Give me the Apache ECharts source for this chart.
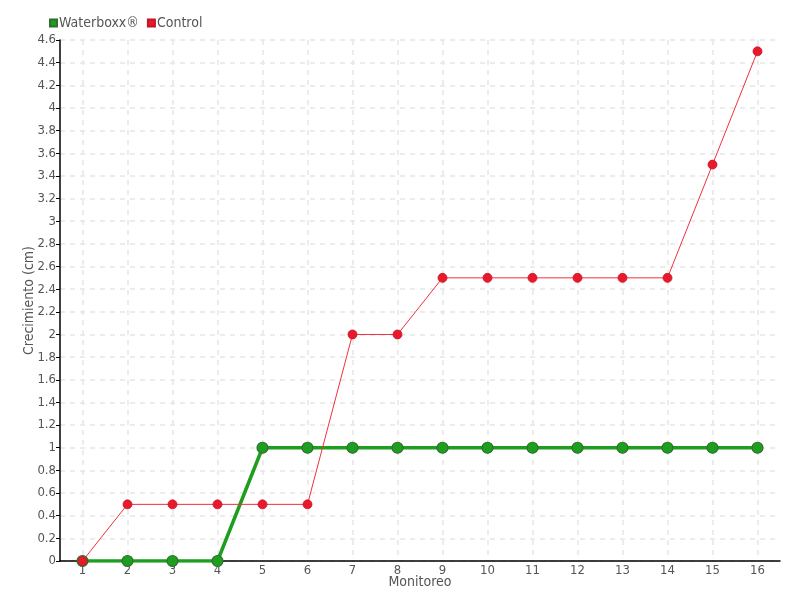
<!DOCTYPE html>
<html><head><meta charset="utf-8">
<script src="https://cdn.jsdelivr.net/npm/echarts@6/dist/echarts.min.js"></script>
<style>html,body{margin:0;padding:0;background:#fff}#c{width:800px;height:600px}</style>
</head><body><div id="c"></div>
<script>
const categories = ['1','2','3','4','5','6','7','8','9','10','11','12','13','14','15','16'];
const waterboxx = [0,0,0,0,1,1,1,1,1,1,1,1,1,1,1,1];
const control = [0,0.5,0.5,0.5,0.5,0.5,2,2,2.5,2.5,2.5,2.5,2.5,2.5,3.5,4.5];
const FONT = '"DejaVu Sans Condensed","Liberation Sans Narrow",sans-serif';
const chart = echarts.init(document.getElementById('c'));
chart.setOption({
  animation: false,
  textStyle: {fontFamily: FONT},
  legend: {
    left: 44, top: 11, itemWidth: 7, itemHeight: 7, itemGap: 8,
    icon: 'rect',
    textStyle: {color: '#555', fontSize: 14, fontFamily: FONT, padding: [0,0,0,-3]},
    data: ['Waterboxx®','Control']
  },
  grid: {left: 60, right: 20, top: 40, bottom: 39},
  xAxis: {
    type: 'category', data: categories, boundaryGap: true,
    name: 'Monitoreo', nameLocation: 'middle', nameGap: 14, nameMoveOverlap: false,
    nameTextStyle: {color: '#555', fontSize: 14, fontFamily: FONT},
    axisLine: {lineStyle: {color: '#000', width: 1.5}},
    axisTick: {alignWithLabel: true, inside: true, length: 5, lineStyle: {color: '#777'}},
    axisLabel: {color: '#555', fontSize: 13, margin: 3, fontFamily: FONT},
    splitLine: {show: true, alignWithLabel: true, lineStyle: {color: '#e6e6e6', type: [5,5], width: 1.5}}
  },
  yAxis: {
    type: 'value', min: 0, max: 4.6, interval: 0.2,
    name: 'Crecimiento (cm)', nameLocation: 'middle', nameGap: 24, nameMoveOverlap: false,
    nameTextStyle: {color: '#555', fontSize: 14, fontFamily: FONT},
    axisLine: {show: true, lineStyle: {color: '#000', width: 1.5}},
    axisTick: {show: true, length: 4, lineStyle: {color: '#000'}},
    axisLabel: {color: '#555', fontSize: 13, margin: 4, fontFamily: FONT,
      formatter: v => String(Math.round(v*10)/10)},
    splitLine: {show: true, lineStyle: {color: '#e6e6e6', type: [5,5], width: 1.5}}
  },
  series: [
    {
      name: 'Waterboxx®', type: 'line', data: waterboxx,
      symbol: 'circle', symbolSize: 11,
      lineStyle: {color: '#1e9e1e', width: 3.5},
      itemStyle: {color: '#1e9e1e', borderColor: '#2f6f2f', borderWidth: 1.2}
    },
    {
      name: 'Control', type: 'line', data: control,
      symbol: 'circle', symbolSize: 9,
      lineStyle: {color: '#f0303f', width: 1},
      itemStyle: {color: '#e8192c', borderColor: '#c81426', borderWidth: 0.8}
    }
  ]
});
</script></body></html>
